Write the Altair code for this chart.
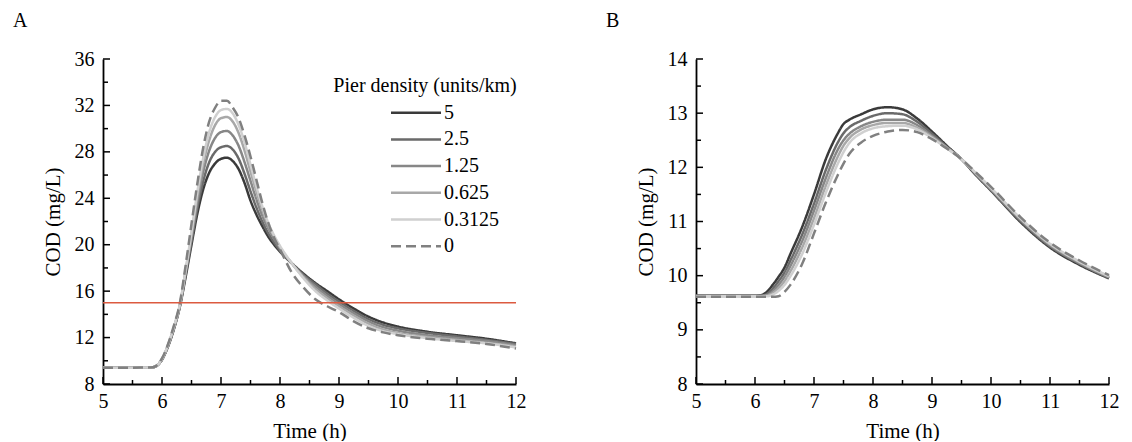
import altair as alt
import pandas as pd

FONT = "Liberation Serif"
W, H = 413, 325
FS = 20

DENSITIES = ["5", "2.5", "1.25", "0.625", "0.3125", "0"]
COLORS = ["#3a3a3a", "#6a6a6a", "#878787", "#a8a8a8", "#d0d0d0", "#808080"]
DASHES = [[1, 0], [1, 0], [1, 0], [1, 0], [1, 0], [10, 5]]
LEGEND_TITLE = "Pier density (units/km)"
THRESHOLD = 15

X_LABELS = [5, 6, 7, 8, 9, 10, 11, 12]
X_MINOR = [5.5, 6.5, 7.5, 8.5, 9.5, 10.5, 11.5]

# ---------------- Panel A ----------------
A_T = [5.0, 5.5, 5.85, 6.0, 6.1, 6.2, 6.3, 6.4, 6.5, 6.6, 6.7, 6.8, 6.9, 7.0, 7.1, 7.2, 7.3, 7.4,
       7.5, 7.6, 7.7, 7.8, 7.9, 8.0, 8.2, 8.4, 8.6, 8.8, 9.0, 9.25, 9.5, 9.75, 10.0, 10.5, 11.0, 11.5, 12.0]
A_5 = [9.4, 9.4, 9.45, 10.1, 11.2, 12.7, 14.6, 17.2, 20.0, 22.7, 24.8, 26.2, 27.0, 27.4, 27.5, 27.2, 26.5, 25.3,
       23.8, 22.6, 21.6, 20.7, 20.0, 19.4, 18.4, 17.5, 16.7, 16.0, 15.3, 14.5, 13.8, 13.3, 12.95, 12.5, 12.2, 11.9, 11.5]
A_2_5 = [9.4, 9.4, 9.45, 10.1, 11.25, 12.75, 14.65, 17.4, 20.3, 23.2, 25.5, 27.1, 28.0, 28.4, 28.5, 28.2, 27.4, 26.1,
         24.6, 23.2, 22.0, 21.0, 20.2, 19.5, 18.4, 17.4, 16.6, 15.8, 15.1, 14.3, 13.6, 13.1, 12.8, 12.4, 12.1, 11.8, 11.45]
A_1_25 = [9.4, 9.4, 9.45, 10.15, 11.3, 12.8, 14.7, 17.6, 20.6, 23.7, 26.3, 28.1, 29.2, 29.7, 29.8, 29.4, 28.5, 27.1,
          25.5, 23.9, 22.5, 21.4, 20.5, 19.7, 18.4, 17.3, 16.4, 15.6, 14.9, 14.1, 13.4, 12.9, 12.6, 12.2, 11.95, 11.7, 11.35]
A_0_625 = [9.4, 9.4, 9.45, 10.15, 11.3, 12.85, 14.75, 17.7, 20.9, 24.2, 27.0, 29.0, 30.3, 30.9, 31.0, 30.6, 29.6, 28.1,
           26.3, 24.6, 23.0, 21.7, 20.7, 19.8, 18.4, 17.2, 16.2, 15.4, 14.7, 13.9, 13.2, 12.7, 12.4, 12.05, 11.8, 11.55, 11.25]
A_0_3125 = [9.4, 9.4, 9.45, 10.15, 11.35, 12.9, 14.8, 17.8, 21.1, 24.6, 27.5, 29.7, 31.0, 31.6, 31.7, 31.3, 30.3, 28.8,
            26.9, 25.0, 23.3, 21.9, 20.8, 19.9, 18.4, 17.1, 16.0, 15.2, 14.5, 13.7, 13.0, 12.55, 12.3, 11.95, 11.7, 11.5, 11.15]
A_0 = [9.4, 9.4, 9.45, 10.2, 11.4, 13.0, 14.9, 18.2, 21.8, 25.3, 28.4, 30.6, 31.8, 32.4, 32.4, 31.8, 30.9, 29.4,
       27.6, 25.6, 23.6, 21.9, 20.6, 19.6, 17.6, 16.3, 15.3, 14.7, 14.2, 13.4, 12.8, 12.45, 12.2, 11.9, 11.7, 11.45, 11.05]
A_Y_LABELS = [8, 12, 16, 20, 24, 28, 32, 36]
A_Y_MINOR = [10, 14, 18, 22, 26, 30, 34]

# ---------------- Panel B ----------------
B_T = [5.0, 5.5, 6.0, 6.1, 6.2, 6.3, 6.4, 6.5, 6.6, 6.8, 7.0, 7.2, 7.4, 7.5, 7.6, 7.8, 8.0, 8.25, 8.5, 8.75,
       9.0, 9.25, 9.5, 9.75, 10.0, 10.5, 11.0, 11.5, 12.0]
B_5 = [9.63, 9.63, 9.63, 9.64, 9.70, 9.83, 9.98, 10.15, 10.40, 10.90, 11.50, 12.15, 12.62, 12.80, 12.88, 12.98, 13.07,
       13.11, 13.07, 12.90, 12.66, 12.40, 12.15, 11.85, 11.57, 10.99, 10.52, 10.20, 9.95]
B_2_5 = [9.63, 9.63, 9.63, 9.63, 9.66, 9.76, 9.90, 10.06, 10.28, 10.76, 11.33, 11.95, 12.45, 12.63, 12.74, 12.86, 12.95,
         13.00, 12.98, 12.84, 12.62, 12.38, 12.15, 11.86, 11.58, 11.01, 10.54, 10.22, 9.96]
B_1_25 = [9.63, 9.63, 9.63, 9.63, 9.64, 9.71, 9.83, 9.98, 10.18, 10.64, 11.20, 11.80, 12.32, 12.50, 12.62, 12.76, 12.84,
          12.88, 12.88, 12.78, 12.58, 12.37, 12.15, 11.87, 11.59, 11.03, 10.56, 10.23, 9.97]
B_0_625 = [9.62, 9.62, 9.62, 9.62, 9.63, 9.68, 9.77, 9.90, 10.08, 10.52, 11.06, 11.66, 12.19, 12.40, 12.54, 12.70, 12.78,
           12.82, 12.82, 12.73, 12.56, 12.36, 12.15, 11.88, 11.61, 11.05, 10.58, 10.25, 9.98]
B_0_3125 = [9.62, 9.62, 9.62, 9.62, 9.62, 9.65, 9.72, 9.83, 9.99, 10.40, 10.94, 11.53, 12.06, 12.28, 12.45, 12.63, 12.72,
            12.76, 12.77, 12.70, 12.54, 12.35, 12.15, 11.89, 11.62, 11.06, 10.59, 10.26, 9.99]
B_0 = [9.61, 9.61, 9.61, 9.61, 9.61, 9.61, 9.62, 9.70, 9.83, 10.22, 10.78, 11.35, 11.85, 12.07, 12.25, 12.46, 12.58,
       12.66, 12.69, 12.65, 12.52, 12.35, 12.15, 11.90, 11.64, 11.08, 10.61, 10.28, 10.01]
B_Y_LABELS = [8, 9, 10, 11, 12, 13, 14]
B_Y_MINOR = [8.5, 9.5, 10.5, 11.5, 12.5, 13.5]


def long_df(times, series):
    rows = []
    for name, vals in zip(DENSITIES, series):
        for t, v in zip(times, vals):
            rows.append({"t": t, "cod": v, "density": name})
    return pd.DataFrame(rows)


df_a = long_df(A_T, [A_5, A_2_5, A_1_25, A_0_625, A_0_3125, A_0])
df_b = long_df(B_T, [B_5, B_2_5, B_1_25, B_0_625, B_0_3125, B_0])

color_enc = alt.Color("density:N", scale=alt.Scale(domain=DENSITIES, range=COLORS), legend=None)
dash_enc = alt.StrokeDash("density:N", scale=alt.Scale(domain=DENSITIES, range=DASHES), legend=None)


def panel(df, ydom, ylabels, yminor, letter):
    xs = alt.Scale(domain=[5, 12], nice=False)
    ys = alt.Scale(domain=ydom, nice=False, zero=False)
    xa = alt.Axis(values=X_LABELS, title="Time (h)", labelFlush=False,
                  labelPadding=7, titlePadding=9, format="d")
    ya = alt.Axis(values=ylabels, title="COD (mg/L)", labelPadding=9, titlePadding=11, format="d")
    lines = alt.Chart(df).mark_line(strokeWidth=2.5, interpolate="monotone").encode(
        x=alt.X("t:Q", scale=xs, axis=xa),
        y=alt.Y("cod:Q", scale=ys, axis=ya),
        color=color_enc,
        strokeDash=dash_enc,
    )
    xmaj = alt.Chart(pd.DataFrame({"t": X_LABELS})).mark_rule(color="black", strokeWidth=1.5).encode(
        x=alt.X("t:Q", scale=xs, axis=xa), y=alt.value(H), y2=alt.value(H - 7))
    xmin = alt.Chart(pd.DataFrame({"t": X_MINOR})).mark_rule(color="black", strokeWidth=1.5).encode(
        x=alt.X("t:Q", scale=xs, axis=xa), y=alt.value(H), y2=alt.value(H - 4))
    ymaj = alt.Chart(pd.DataFrame({"cod": ylabels})).mark_rule(color="black", strokeWidth=1.5).encode(
        y=alt.Y("cod:Q", scale=ys, axis=ya), x=alt.value(0), x2=alt.value(7))
    ymin = alt.Chart(pd.DataFrame({"cod": yminor})).mark_rule(color="black", strokeWidth=1.5).encode(
        y=alt.Y("cod:Q", scale=ys, axis=ya), x=alt.value(0), x2=alt.value(5))
    lab = alt.Chart(pd.DataFrame({"s": [letter]})).mark_text(
        align="left", baseline="middle", fontSize=FS, font=FONT, color="black").encode(
        x=alt.value(-90), y=alt.value(-38), text="s:N")
    return [lines, xmaj, xmin, ymaj, ymin, lab], xs, ys, xa, ya


layers_a, xs_a, ys_a, xa_a, ya_a = panel(df_a, [8, 36], A_Y_LABELS, A_Y_MINOR, "A")
red = alt.Chart(pd.DataFrame({"cod": [THRESHOLD], "t": [5], "t1": [12]})).mark_rule(
    color="#dc5a40", strokeWidth=1.6).encode(
    y=alt.Y("cod:Q", scale=ys_a, axis=ya_a), x=alt.X("t:Q", scale=xs_a, axis=xa_a), x2="t1:Q")

leg_df = pd.DataFrame({"density": DENSITIES, "row": list(range(len(DENSITIES)))})
leg_rules = alt.Chart(leg_df).transform_calculate(py="53.7 + datum.row * 26.7").mark_rule(strokeWidth=2.5).encode(
    x=alt.value(288), x2=alt.value(338), y=alt.Y("py:Q", scale=None),
    color=color_enc, strokeDash=dash_enc)
leg_text = alt.Chart(leg_df).transform_calculate(py="53.7 + datum.row * 26.7").mark_text(
    align="left", baseline="middle", fontSize=FS, font=FONT, color="black").encode(
    x=alt.value(341), y=alt.Y("py:Q", scale=None), text="density:N")
leg_title = alt.Chart(pd.DataFrame({"s": [LEGEND_TITLE]})).mark_text(
    align="center", baseline="middle", fontSize=FS, font=FONT, color="black").encode(
    x=alt.value(322), y=alt.value(27), text="s:N")

chart_a = alt.layer(*(layers_a[:1] + [red] + layers_a[1:] + [leg_rules, leg_text, leg_title])).properties(
    width=W, height=H)
layers_b = panel(df_b, [8, 14], B_Y_LABELS, B_Y_MINOR, "B")[0]
chart_b = alt.layer(*layers_b).properties(width=W, height=H)

chart = alt.hconcat(chart_a, chart_b, spacing=80).properties(
    padding={"left": 13, "top": 11, "right": 0, "bottom": 0}
).configure_view(stroke=None).configure_axis(
    domainColor="black", domainWidth=1.8, ticks=False, grid=False,
    labelFont=FONT, titleFont=FONT, labelFontSize=FS, titleFontSize=21,
    titleFontWeight="normal", labelColor="black", titleColor="black",
)

chart.save("out.html", embed_options={"renderer": "svg", "actions": False})
